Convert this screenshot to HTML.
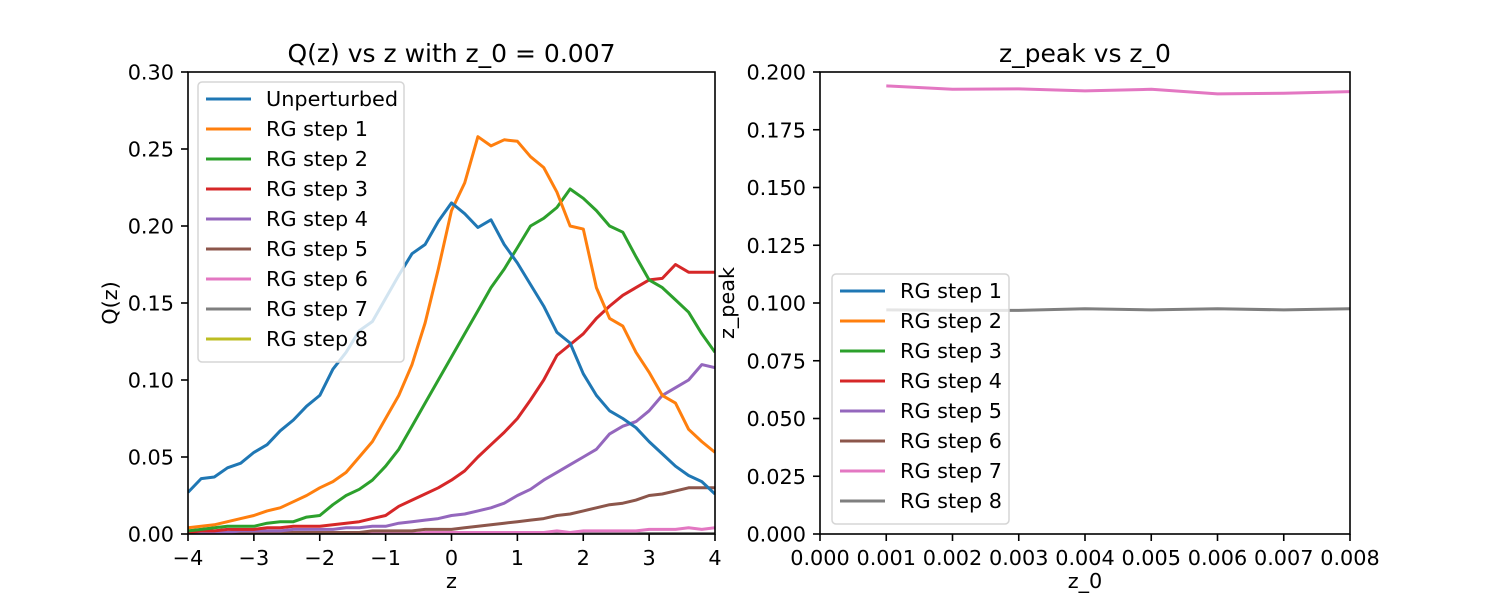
<!DOCTYPE html>
<html><head><meta charset="utf-8"><style>
body{margin:0;background:#fff}
svg text{font-family:"DejaVu Sans","Liberation Sans",sans-serif;fill:#000}
</style></head><body>
<svg id="fig" width="1500" height="600" xmlns="http://www.w3.org/2000/svg"></svg>
<script>
const zVals=[-4,-3.8,-3.6,-3.4,-3.2,-3,-2.8,-2.6,-2.4,-2.2,-2,-1.8,-1.6,-1.4,-1.2,-1,-0.8,-0.6,-0.4,-0.2,0,0.2,0.4,0.6,0.8,1,1.2,1.4,1.6,1.8,2,2.2,2.4,2.6,2.8,3,3.2,3.4,3.6,3.8,4];
const qUnpert=[0.027,0.036,0.037,0.043,0.046,0.053,0.058,0.067,0.074,0.083,0.09,0.107,0.118,0.132,0.138,0.153,0.168,0.182,0.188,0.203,0.215,0.208,0.199,0.204,0.188,0.176,0.162,0.148,0.131,0.124,0.104,0.09,0.08,0.075,0.069,0.06,0.052,0.044,0.038,0.034,0.026];
const qStep1=[0.004,0.005,0.006,0.008,0.01,0.012,0.015,0.017,0.021,0.025,0.03,0.034,0.04,0.05,0.06,0.075,0.09,0.11,0.137,0.172,0.21,0.228,0.258,0.252,0.256,0.255,0.245,0.238,0.222,0.2,0.198,0.16,0.14,0.135,0.118,0.105,0.09,0.085,0.068,0.06,0.053];
const qStep2=[0.002,0.003,0.004,0.005,0.005,0.005,0.007,0.008,0.008,0.011,0.012,0.019,0.025,0.029,0.035,0.044,0.055,0.07,0.085,0.1,0.115,0.13,0.145,0.16,0.172,0.186,0.2,0.205,0.212,0.224,0.218,0.21,0.2,0.196,0.18,0.165,0.16,0.152,0.144,0.13,0.118];
const qStep3=[0.001,0.002,0.002,0.003,0.003,0.003,0.004,0.004,0.005,0.005,0.005,0.006,0.007,0.008,0.01,0.012,0.018,0.022,0.026,0.03,0.035,0.041,0.05,0.058,0.066,0.075,0.087,0.1,0.116,0.123,0.13,0.14,0.148,0.155,0.16,0.165,0.166,0.175,0.17,0.17,0.17];
const qStep4=[0.001,0.001,0.001,0.001,0.002,0.002,0.002,0.002,0.003,0.003,0.003,0.003,0.004,0.004,0.005,0.005,0.007,0.008,0.009,0.01,0.012,0.013,0.015,0.017,0.02,0.025,0.029,0.035,0.04,0.045,0.05,0.055,0.065,0.07,0.073,0.08,0.09,0.095,0.1,0.11,0.108];
const qStep5=[0,0,0,0,0,0,0.001,0.001,0.001,0.001,0.001,0.001,0.001,0.001,0.002,0.002,0.002,0.002,0.003,0.003,0.003,0.004,0.005,0.006,0.007,0.008,0.009,0.01,0.012,0.013,0.015,0.017,0.019,0.02,0.022,0.025,0.026,0.028,0.03,0.03,0.03];
const qStep6=[0,0,0,0,0,0,0,0,0,0,0,0,0,0,0,0,0,0,0.001,0.001,0.001,0.001,0.001,0.001,0.001,0.001,0.001,0.001,0.002,0.001,0.002,0.002,0.002,0.002,0.002,0.003,0.003,0.003,0.004,0.003,0.004];
const qStep7=zVals.map(()=>0.0003);
const qStep8=zVals.map(()=>0.0001);
const z0Vals=[0.001,0.002,0.003,0.004,0.005,0.006,0.007,0.008];
const peakStep7=[0.194,0.1925,0.1927,0.1918,0.1925,0.1905,0.1908,0.1915];
const peakStep8=[0.097,0.0968,0.0968,0.0975,0.097,0.0975,0.097,0.0975];
const leftTicksX=[-4,-3,-2,-1,0,1,2,3,4];
const leftTicksY=[0,0.05,0.1,0.15,0.2,0.25,0.3];
const rightTicksX=[0,0.001,0.002,0.003,0.004,0.005,0.006,0.007,0.008];
const rightTicksY=[0,0.025,0.05,0.075,0.1,0.125,0.15,0.175,0.2];
const colors=['#1f77b4','#ff7f0e','#2ca02c','#d62728','#9467bd','#8c564b','#e377c2','#7f7f7f','#bcbd22'];
const NS='http://www.w3.org/2000/svg';
const svg=document.getElementById('fig');
const FS=20.8;
function mk(tag,attrs,parent){const e=document.createElementNS(NS,tag);for(const k in attrs)e.setAttribute(k,attrs[k]);(parent||svg).appendChild(e);return e;}
function txt(s,x,y,anchor,size,parent){const t=mk('text',{x:x,y:y,'text-anchor':anchor,'font-size':size},parent);t.textContent=s;return t;}

const L={x0:188,x1:715,y0:534,y1:72,xmin:-4,xmax:4,ymin:0,ymax:0.3};
const R={x0:820,x1:1350,y0:534,y1:72,xmin:0,xmax:0.008,ymin:0,ymax:0.2};
function sx(a,v){return a.x0+(v-a.xmin)/(a.xmax-a.xmin)*(a.x1-a.x0);}
function sy(a,v){return a.y0-(v-a.ymin)/(a.ymax-a.ymin)*(a.y0-a.y1);}

function axes(a,name,tx,ty,fx,fy,title,xl){
  const g=mk('g',{});
  
  
  const clipId=name+'-clip';
  const cp=mk('clipPath',{id:clipId},g);mk('rect',{x:a.x0,y:a.y1,width:a.x1-a.x0,height:a.y0-a.y1},cp);
  const series=mk('g',{'clip-path':'url(#'+clipId+')'},g);
  tx.forEach(v=>{const x=sx(a,v);
    const tk=mk('line',{x1:x,x2:x,y1:a.y0,y2:a.y0+7,stroke:'#000','stroke-width':1.6},g);
    
    const t=txt(fx(v),x,a.y0+31,'middle',FS,g);
    });
  ty.forEach(v=>{const y=sy(a,v);
    const tk=mk('line',{x1:a.x0-7,x2:a.x0,y1:y,y2:y,stroke:'#000','stroke-width':1.6},g);
    
    const t=txt(fy(v),a.x0-14,y+7.5,'end',FS,g);
    });
  const tt=txt(title,(a.x0+a.x1)/2,62,'middle',25,g);
  
  const xt=txt(xl,(a.x0+a.x1)/2,588,'middle',FS,g);
  
  return {g,series};
}
const left=axes(L,'left-chart',leftTicksX,leftTicksY,v=>v<0?'\u2212'+(-v):String(v),v=>v.toFixed(2),'Q(z) vs z with z_0 = 0.007','z');
const ylL=txt('Q(z)',0,0,'middle',FS,left.g);ylL.setAttribute('transform','translate(117,303) rotate(-90)');

const right=axes(R,'right-chart',rightTicksX,rightTicksY,v=>v.toFixed(3),v=>v.toFixed(3),'z_peak vs z_0','z_0');
const ylR=txt('z_peak',0,0,'middle',FS,right.g);ylR.setAttribute('transform','translate(734,303) rotate(-90)');


function line(a,parent,xs,ys,color,name){
  const d=xs.map((x,i)=>(i?'L':'M')+sx(a,x).toFixed(1)+','+sy(a,ys[i]).toFixed(1)).join('');
  const p=mk('path',{d:d,fill:'none',stroke:color,'stroke-width':3,'stroke-linejoin':'round'},parent);
  
}
const leftSeries=[qUnpert,qStep1,qStep2,qStep3,qStep4,qStep5,qStep6,qStep7,qStep8];
for(let i=leftSeries.length-1;i>=0;i--) line(L,left.series,zVals,leftSeries[i],colors[i],i?'line-rg-step-'+i:'line-unperturbed');
line(R,right.series,z0Vals,peakStep7,colors[6],'line-rg-step-7');
line(R,right.series,z0Vals,peakStep8,colors[7],'line-rg-step-8');

function legend(x,y,w,h,labels,cols,parent){
  const g=mk('g',{},parent);
  
  mk('rect',{x:x,y:y,width:w,height:h,rx:4,fill:'#fff','fill-opacity':0.8,stroke:'#d5d5d5','stroke-width':1.5},g);
  labels.forEach((s,i)=>{const cy=y+17+i*30;
    const e=mk('g',{},g);
    
    mk('line',{x1:x+8,x2:x+53,y1:cy,y2:cy,stroke:cols[i],'stroke-width':3},e);
    txt(s,x+68,cy+7,'start',FS,e);});
}
legend(198,82,206,280,['Unperturbed','RG step 1','RG step 2','RG step 3','RG step 4','RG step 5','RG step 6','RG step 7','RG step 8'],colors,left.g);
legend(832,274,177,250,['RG step 1','RG step 2','RG step 3','RG step 4','RG step 5','RG step 6','RG step 7','RG step 8'],colors.slice(0,8),right.g);

[L,R].forEach((a,i)=>{const f=mk('rect',{x:a.x0,y:a.y1,width:a.x1-a.x0,height:a.y0-a.y1,fill:'none',stroke:'#000','stroke-width':1.6},[left.g,right.g][i]);
 });
</script>
</body></html>
